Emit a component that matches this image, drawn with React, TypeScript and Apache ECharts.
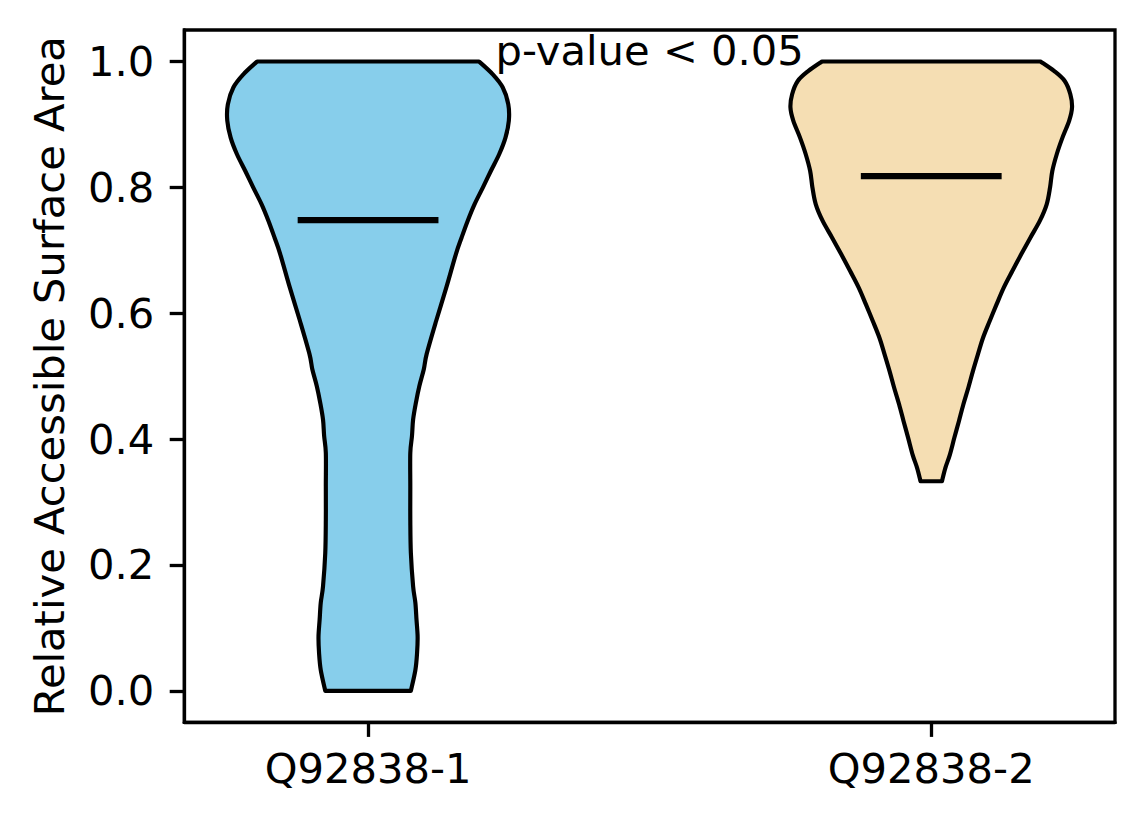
import React, { useEffect, useRef } from "react";
import * as echarts from "echarts";

const categories = ["Q92838-1", "Q92838-2"];
const positions = [1, 2];
const yTicks = [0, 0.2, 0.4, 0.6, 0.8, 1.0];
const means = [0.748, 0.818];
const colors = ["#87CEEB", "#F5DEB3"];

// violin profile: y level and half-width (x units)
const violin1Y = [1.0, 0.98, 0.959, 0.932, 0.906, 0.879, 0.853, 0.826, 0.8, 0.773, 0.747, 0.72, 0.694, 0.641, 0.588, 0.535, 0.511, 0.484, 0.458, 0.431, 0.405, 0.378, 0.325, 0.272, 0.219, 0.166, 0.14, 0.113, 0.086, 0.06, 0.033, 0.0];
const violin1HalfWidth = [0.197, 0.221, 0.239, 0.249, 0.25, 0.244, 0.233, 0.218, 0.204, 0.189, 0.177, 0.166, 0.156, 0.139, 0.121, 0.104, 0.099, 0.091, 0.085, 0.08, 0.078, 0.075, 0.075, 0.075, 0.076, 0.08, 0.084, 0.086, 0.088, 0.087, 0.084, 0.076];
const violin2Y = [1.0, 0.985, 0.969, 0.948, 0.927, 0.906, 0.879, 0.853, 0.826, 0.8, 0.773, 0.747, 0.72, 0.694, 0.667, 0.641, 0.614, 0.588, 0.561, 0.535, 0.508, 0.482, 0.455, 0.428, 0.402, 0.375, 0.354, 0.333];
const violin2HalfWidth = [0.194, 0.218, 0.237, 0.247, 0.25, 0.245, 0.233, 0.223, 0.215, 0.211, 0.205, 0.193, 0.176, 0.16, 0.144, 0.129, 0.116, 0.104, 0.092, 0.083, 0.074, 0.066, 0.057, 0.049, 0.041, 0.033, 0.025, 0.019];

const violinYs = [violin1Y, violin2Y];
const violinHWs = [violin1HalfWidth, violin2HalfWidth];

const annotationText = "p-value < 0.05";
const annotationPos = [1.5, 1.0];

const FONT = "DejaVu Sans";
const FS = 41.67;

const ViolinShape = (echarts.graphic as any).extendShape({
  type: "violin",
  shape: { left: [], right: [] },
  buildPath(ctx: any, shape: any) {
    const curve = (pts: number[][], first: boolean) => {
      if (!pts.length) return;
      if (first) ctx.moveTo(pts[0][0], pts[0][1]);
      else ctx.lineTo(pts[0][0], pts[0][1]);
      for (let i = 0; i < pts.length - 1; i++) {
        const p0 = pts[Math.max(i - 1, 0)];
        const p1 = pts[i];
        const p2 = pts[i + 1];
        const p3 = pts[Math.min(i + 2, pts.length - 1)];
        ctx.bezierCurveTo(
          p1[0] + (p2[0] - p0[0]) / 6,
          p1[1] + (p2[1] - p0[1]) / 6,
          p2[0] - (p3[0] - p1[0]) / 6,
          p2[1] - (p3[1] - p1[1]) / 6,
          p2[0],
          p2[1]
        );
      }
    };
    curve(shape.left, true);
    curve(shape.right, false);
    ctx.closePath();
  },
});
(echarts.graphic as any).registerShape("violin", ViolinShape);

export default function App() {
  const ref = useRef<HTMLDivElement>(null);
  useEffect(() => {
    if (!ref.current) return;
    const chart = echarts.init(ref.current, undefined, { renderer: "svg" });

    const violinSeries = positions.map((pos, i) => ({
      type: "custom",
      data: [[pos, means[i]]],
      encode: { x: 0, y: 1 },
      renderItem: (params: any, api: any) => {
        const ys = violinYs[i];
        const hws = violinHWs[i];
        const left = ys.map((y, k) => api.coord([pos - hws[k], y]));
        const right = ys.map((y, k) => api.coord([pos + hws[k], y])).reverse();
        const m0 = api.coord([pos - 0.125, means[i]]);
        const m1 = api.coord([pos + 0.125, means[i]]);
        return {
          type: "group",
          children: [
            {
              type: "violin",
              shape: { left, right },
              style: { fill: colors[i], stroke: "#000", lineWidth: 4.17, lineJoin: "round" },
            },
            {
              type: "line",
              shape: { x1: m0[0], y1: m0[1], x2: m1[0], y2: m1[1] },
              style: { stroke: "#000", lineWidth: 6.25 },
            },
          ],
        };
      },
    }));

    const annotationSeries = {
      type: "custom",
      data: [annotationPos],
      encode: { x: 0, y: 1 },
      renderItem: (params: any, api: any) => {
        const p = api.coord(annotationPos);
        return {
          type: "text",
          x: p[0],
          y: p[1] - 10.5,
          style: {
            text: annotationText,
            fontSize: FS,
            fontFamily: FONT,
            fill: "#000",
            align: "center",
            verticalAlign: "middle",
          },
        };
      },
    };

    chart.setOption({
      animation: false,
      backgroundColor: "#fff",
      grid: {
        left: 184.3,
        right: 29,
        top: 30,
        bottom: 101.7,
        show: true,
        borderColor: "#000",
        borderWidth: 3.3,
        backgroundColor: "transparent",
      },
      xAxis: {
        type: "value",
        min: 0.6737,
        max: 2.3263,
        splitLine: { show: false },
        axisLine: { show: true, onZero: false, lineStyle: { color: "#000", width: 3.3 } },
        axisTick: {
          show: true,
          customValues: positions,
          length: 14.6,
          lineStyle: { color: "#000", width: 3.3 },
        },
        axisLabel: {
          customValues: positions,
          formatter: (v: number) => categories[positions.indexOf(v)] ?? "",
          fontSize: FS,
          fontFamily: FONT,
          color: "#000",
          margin: 25,
        },
      },
      yAxis: {
        type: "value",
        min: -0.05,
        max: 1.05,
        name: "Relative Accessible Surface Area",
        nameLocation: "middle",
        nameGap: 114,
        nameTextStyle: { fontSize: FS, fontFamily: FONT, color: "#000" },
        splitLine: { show: false },
        axisLine: { show: true, onZero: false, lineStyle: { color: "#000", width: 3.3 } },
        axisTick: {
          show: true,
          customValues: yTicks,
          length: 14.6,
          lineStyle: { color: "#000", width: 3.3 },
        },
        axisLabel: {
          customValues: yTicks,
          formatter: (v: number) => v.toFixed(1),
          fontSize: FS,
          fontFamily: FONT,
          color: "#000",
          margin: 30,
        },
      },
      series: [...violinSeries, annotationSeries],
    });
    return () => chart.dispose();
  }, []);
  return (
    <div
      ref={ref}
      style={{ position: "fixed", left: 0, top: 0, width: 1144, height: 824, background: "#fff" }}
    />
  );
}
